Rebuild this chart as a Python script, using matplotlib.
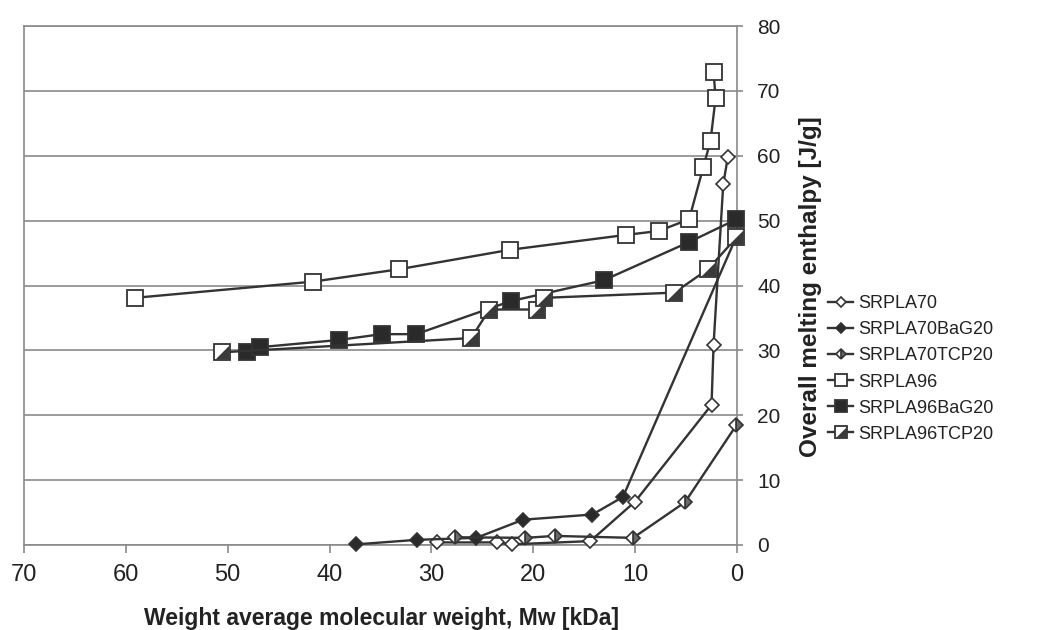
import matplotlib
matplotlib.use("Agg")
import matplotlib.pyplot as plt
from matplotlib.path import Path
from matplotlib.legend_handler import HandlerTuple

plt.rcParams['font.family'] = ['Liberation Sans', 'DejaVu Sans']

# ---- data (Mw in kDa, melting enthalpy in J/g) ----
srpla70_x = [29.5, 23.6, 22.1, 14.4, 10.0, 2.5, 2.3, 1.35, 0.9]
srpla70_y = [0.4, 0.4, 0.1, 0.6, 6.7, 21.6, 30.9, 55.6, 59.8]

srpla70bag_x = [37.4, 31.4, 25.6, 21.0, 14.2, 11.2, 0.1]
srpla70bag_y = [0.1, 0.8, 1.1, 3.9, 4.7, 7.4, 47.4]

srpla70tcp_x = [27.7, 20.8, 17.9, 10.2, 5.1, 0.05]
srpla70tcp_y = [1.2, 1.1, 1.4, 1.1, 6.6, 18.5]

srpla96_x = [59.1, 41.6, 33.2, 22.3, 10.9, 7.7, 4.7, 3.3, 2.6, 2.1, 2.3]
srpla96_y = [38.1, 40.6, 42.5, 45.5, 47.8, 48.4, 50.2, 58.3, 62.3, 68.9, 72.9]

srpla96bag_x = [48.1, 46.8, 39.1, 34.9, 31.5, 22.2, 13.1, 4.7, 0.05]
srpla96bag_y = [29.8, 30.5, 31.6, 32.5, 32.5, 37.6, 40.8, 46.7, 50.2]

srpla96tcp_x = [50.6, 26.1, 24.3, 19.6, 18.9, 6.15, 2.85, 0.05]
srpla96tcp_y = [29.7, 31.9, 36.3, 36.3, 38.1, 38.9, 42.5, 47.4]

labels = ['SRPLA70', 'SRPLA70BaG20', 'SRPLA70TCP20',
          'SRPLA96', 'SRPLA96BaG20', 'SRPLA96TCP20']
x_ticks = [70, 60, 50, 40, 30, 20, 10, 0]
y_ticks = [0, 10, 20, 30, 40, 50, 60, 70, 80]

# ---- figure ----
fig = plt.figure(figsize=(10.53, 6.3), dpi=100)
ax = fig.add_axes([24/1053, 1-545/630, (737-24)/1053, (545-26)/630])

lc = '#333333'
dark = '#2a2a2a'
lw = 1.7
tri = Path([(0.5, 0.5), (0.5, -0.5), (-0.5, -0.5), (0.5, 0.5)],
           [Path.MOVETO, Path.LINETO, Path.LINETO, Path.CLOSEPOLY])

common = dict(color=lc, lw=lw, clip_on=False)
h1, = ax.plot(srpla70_x, srpla70_y, marker='D', ms=7,
              mfc='white', mec=lc, mew=1.2, zorder=3, **common)
h2, = ax.plot(srpla70bag_x, srpla70bag_y, marker='D', ms=7,
              mfc=dark, mec=lc, mew=1.2, zorder=3, **common)
h3, = ax.plot(srpla70tcp_x, srpla70tcp_y, marker='D', ms=7,
              mfc='#6a6a6a', mfcalt='white', fillstyle='right',
              mec=lc, mew=1.2, zorder=3, **common)
h4, = ax.plot(srpla96_x, srpla96_y, marker='s', ms=11,
              mfc='white', mec=lc, mew=1.3, zorder=4, **common)
h5, = ax.plot(srpla96bag_x, srpla96bag_y, marker='s', ms=11,
              mfc=dark, mec=lc, mew=1.3, zorder=4, **common)
h6a, = ax.plot(srpla96tcp_x, srpla96tcp_y, marker='s', ms=11,
               mfc='white', mec=lc, mew=1.3, zorder=4, **common)
h6b, = ax.plot(srpla96tcp_x, srpla96tcp_y, ls='none', marker=tri, ms=9.5,
               mfc='#3a3a3a', mec='none', zorder=5, clip_on=False)

ax.set_xlim(70, 0)
ax.set_ylim(0, 80)
ax.set_xticks(x_ticks)
ax.set_yticks(y_ticks)
ax.yaxis.tick_right()
grid_c = '#8a8a8a'
ax.grid(axis='y', color=grid_c, lw=1.2)
ax.set_axisbelow(True)
for s in ax.spines.values():
    s.set_color(grid_c)
    s.set_linewidth(1.2)
ax.tick_params(axis='x', direction='out', length=6, width=1.2, color=grid_c,
               labelsize=17, pad=8, labelcolor='#222222')
ax.tick_params(axis='y', direction='out', length=4.5, width=1.2, color=grid_c,
               labelsize=15, pad=10, labelcolor='#222222', right=True, left=False)

fig.text(382/1053, 1-619/630, 'Weight average molecular weight, Mw [kDa]',
         ha='center', va='center', fontsize=16.5, fontweight='bold', color='#222222')
fig.text(811/1053, 1-287/630, 'Overall melting enthalpy [J/g]', rotation=90,
         ha='center', va='center', fontsize=17.5, fontweight='bold', color='#222222')

fig.legend([h1, h2, h3, h4, h5, (h6a, h6b)], labels,
           handler_map={tuple: HandlerTuple(ndivide=1)},
           loc='center left', bbox_to_anchor=(828/1053, 1-369/630),
           frameon=False, fontsize=13, handlelength=1.4, handletextpad=0.3,
           labelspacing=0.5, borderpad=0, borderaxespad=0, markerscale=0.75,
           labelcolor='#222222')

fig.savefig('out.png', dpi=100)
